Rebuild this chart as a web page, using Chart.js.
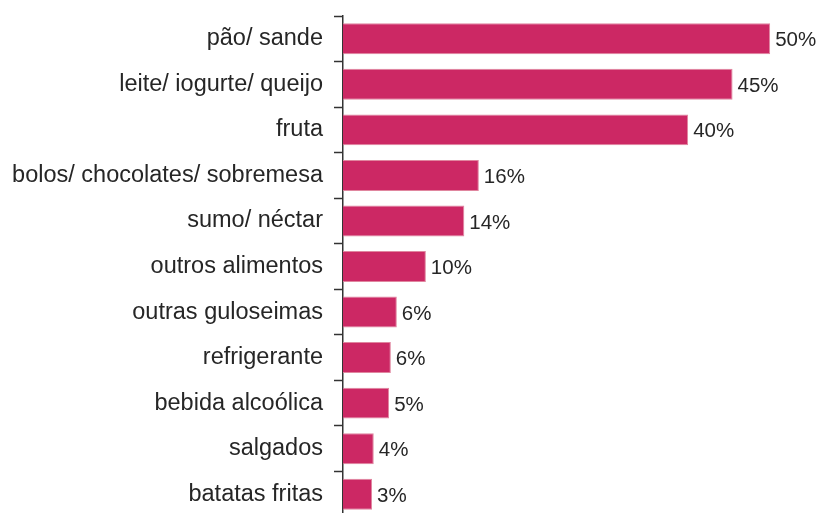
<!DOCTYPE html>
<html>
<head>
<meta charset="utf-8">
<script src="https://cdn.jsdelivr.net/npm/chart.js@4/dist/chart.umd.min.js"></script>
<style>
html,body{margin:0;padding:0;background:#fff;overflow:hidden;}
#wrap{width:818px;height:520px;position:relative;}
</style>
</head>
<body>
<div id="wrap"><canvas id="c"></canvas></div>
<script>
const categories = ["pão/ sande","leite/ iogurte/ queijo","fruta","bolos/ chocolates/ sobremesa","sumo/ néctar","outros alimentos","outras guloseimas","refrigerante","bebida alcoólica","salgados","batatas fritas"];
const values = [50, 45.6, 40.4, 15.9, 14.2, 9.7, 6.3, 5.6, 5.4, 3.6, 3.4];
const valueLabels = ["50%","45%","40%","16%","14%","10%","6%","6%","5%","4%","3%"];

const FONT = "'Liberation Sans', Arial, Helvetica, sans-serif";
const TEXT = "#262626";

const valueLabelPlugin = {
  id: 'valueLabels',
  afterDatasetsDraw(chart) {
    const ctx = chart.ctx;
    const meta = chart.getDatasetMeta(0);
    ctx.save();
    ctx.font = "20.5px " + FONT;
    ctx.fillStyle = TEXT;
    ctx.textAlign = 'left';
    ctx.textBaseline = 'alphabetic';
    meta.data.forEach((bar, i) => {
      ctx.fillText(valueLabels[i], bar.x + 5, bar.y + 7.6);
    });
    ctx.restore();
  }
};

new Chart(document.getElementById('c'), {
  type: 'bar',
  data: {
    labels: categories,
    datasets: [{
      data: values,
      backgroundColor: '#cc2864',
      borderColor: '#e0869f',
      borderWidth: 1,
      borderSkipped: 'start',
      categoryPercentage: 1,
      barPercentage: 0.68
    }]
  },
  options: {
    indexAxis: 'y',
    responsive: true,
    maintainAspectRatio: false,
    animation: false,
    layout: { padding: { top: 16, bottom: 3, right: 0, left: 0 } },
    plugins: { legend: { display: false }, tooltip: { enabled: false } },
    scales: {
      x: {
        display: false,
        min: 0,
        max: 55.6
      },
      y: {
        afterFit(scale) {
          scale.width = 343;
          scale.paddingTop = 0;
          scale.paddingBottom = 0;
        },
        border: { display: true, color: '#333', width: 1.5 },
        grid: {
          display: true,
          drawOnChartArea: false,
          drawTicks: true,
          tickLength: 9,
          tickWidth: 1.5,
          tickColor: '#333',
          offset: true
        },
        ticks: {
          padding: 11,
          color: TEXT,
          font: { family: FONT, size: 23.5 }
        }
      }
    }
  },
  plugins: [valueLabelPlugin]
});
</script>
</body>
</html>
